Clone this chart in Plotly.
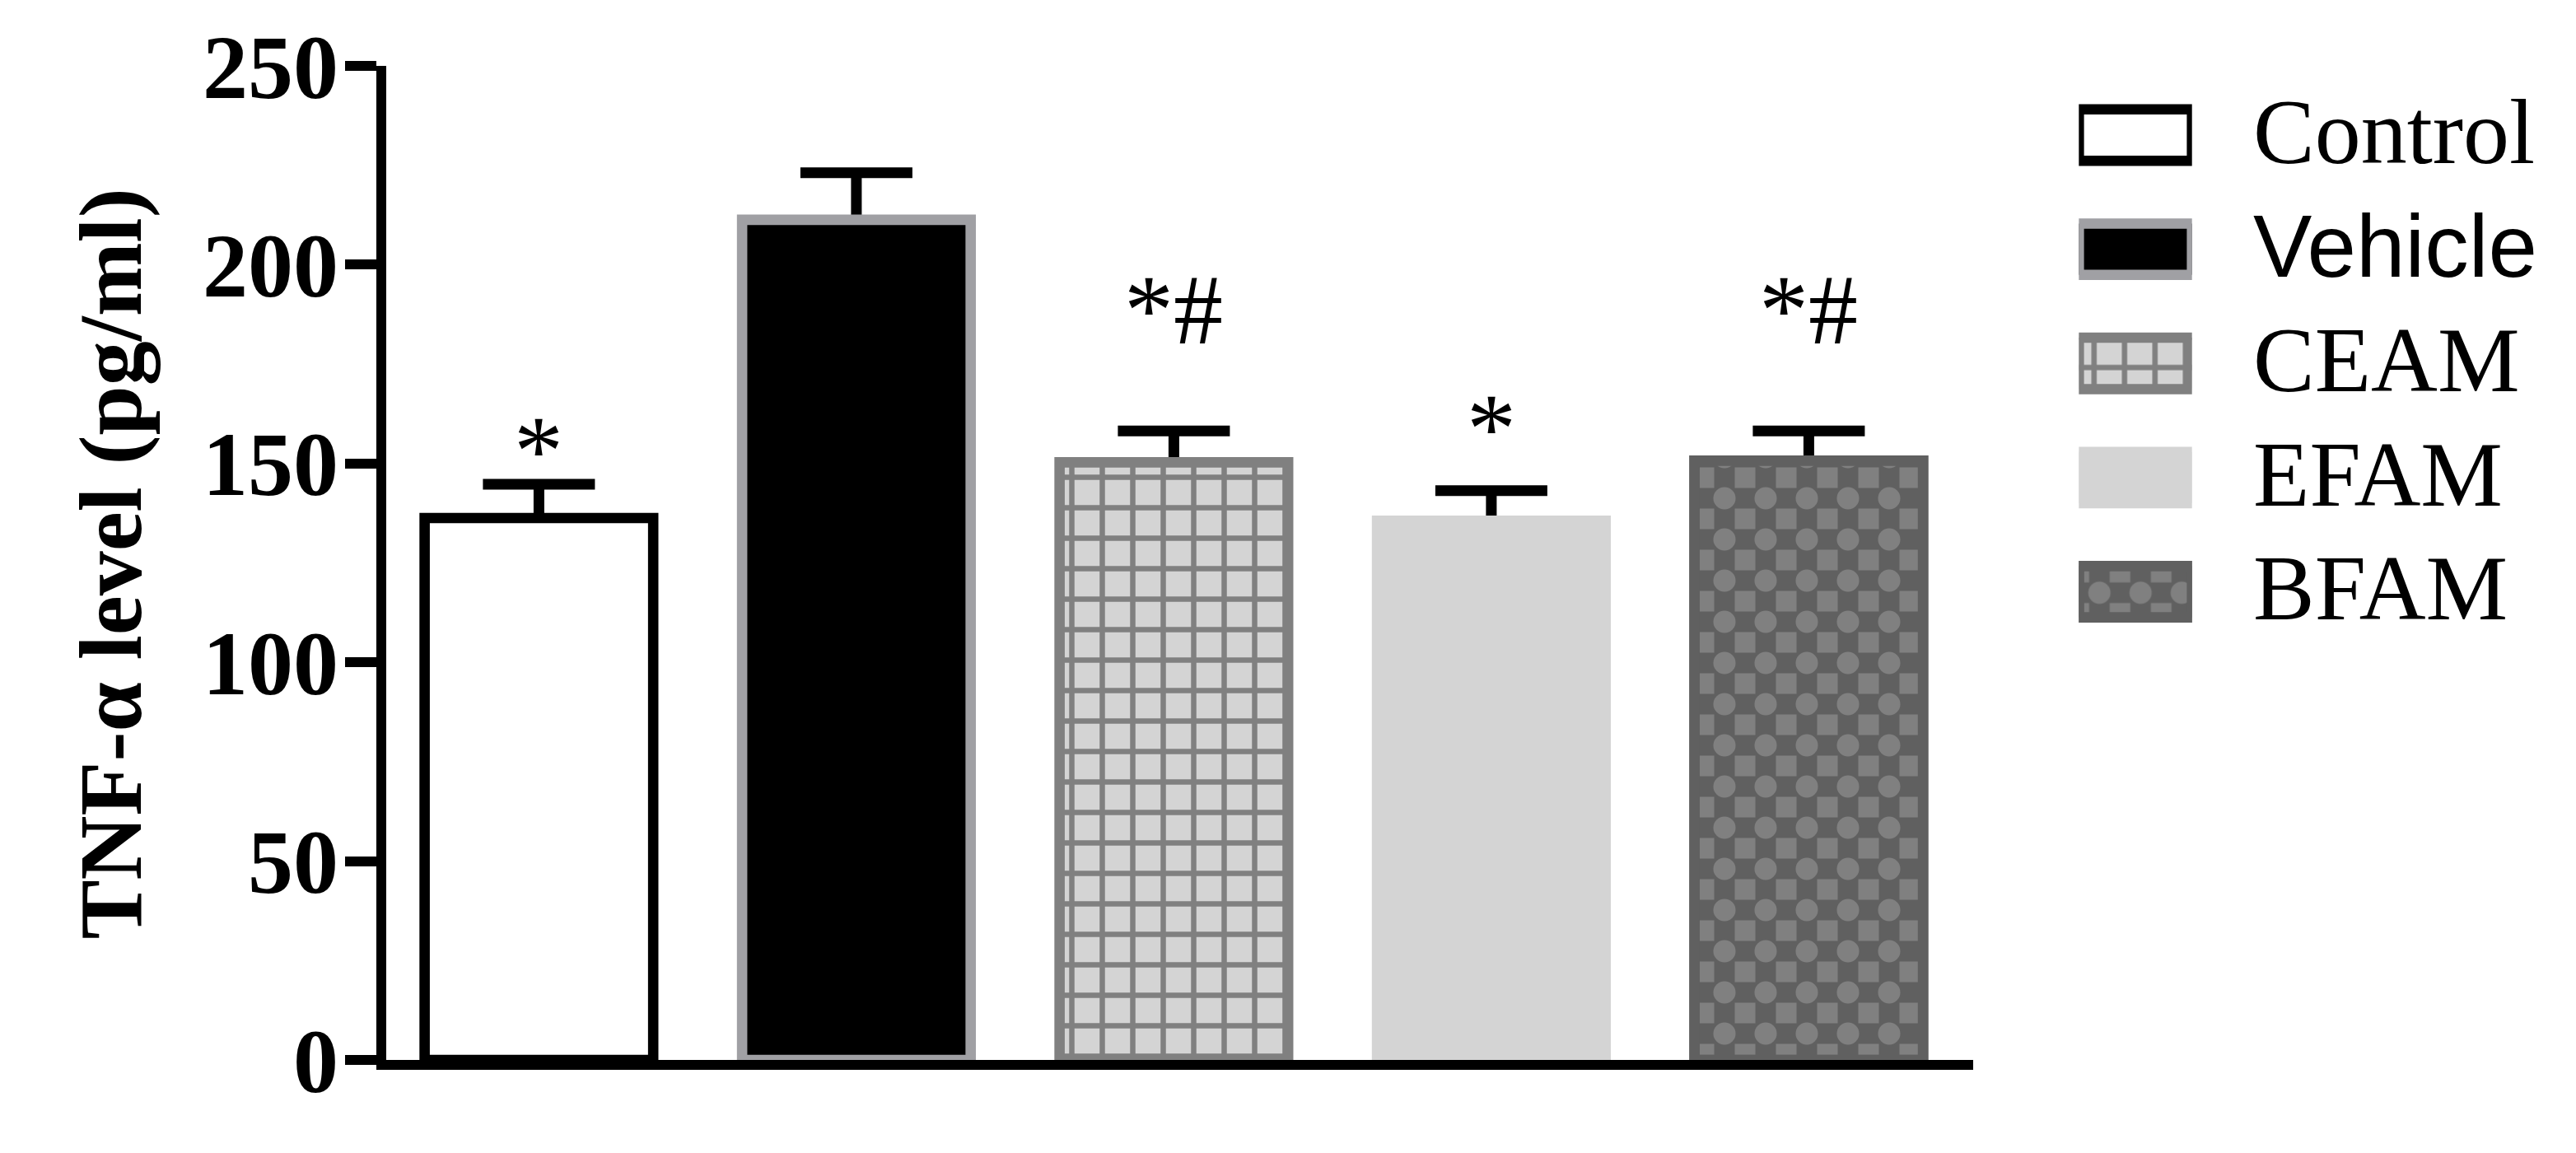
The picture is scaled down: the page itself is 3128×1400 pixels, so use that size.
import plotly.graph_objects as go

# ---- data ----
categories = ["Control", "Vehicle", "CEAM", "EFAM", "BFAM"]
means = [136.3, 211.3, 150.3, 135.6, 150.7]
sems = [8.5, 11.8, 7.9, 7.6, 7.5]
sig_labels = ["*", "", "*#", "*", "*#"]
sig_heights = [153.2, None, 188.6, 158.8, 188.6]
y_ticks = [0, 50, 100, 150, 200, 250]
y_title = "TNF-α level (pg/ml)"

# ---- styles ----
fill_colors = ["#ffffff", "#000000", "#d4d4d4", "#d4d4d4", "#606060"]
line_colors = ["#000000", "#a0a0a4", "#808080", "#d4d4d4", "#606060"]
pat_shapes = ["", "", "+", "", "+"]
pat_bg = ["#ffffff", "#000000", "#d4d4d4", "#d4d4d4", "#808080"]
pat_fg = ["#000000", "#000000", "#808080", "#000000", "#606060"]
pat_size = [10, 10, 37, 10, 50]
pat_solid = [0.3, 0.3, 0.32, 0.3, 0.75]
checker = [False, False, False, False, True]
legend_fonts = ["Liberation Serif", "Liberation Sans", "Liberation Serif", "Liberation Serif", "Liberation Serif"]
legend_sizes = [112, 107, 112, 112, 112]

W, H = 3128, 1400
OFF = 8  # page body margin of the html page
serif = "Liberation Serif"
LW = 12.6


def px_x(p):
    return (p - OFF) / W


def px_y(p):
    return 1 - (p - OFF) / H


# main plot geometry (target px in the picture)
first_center, spacing = 654.4, 385.5
mx0, mx1 = 469, 2396
my_top, my_bot = 80, 1287
xr = [(mx0 - first_center) / spacing, (mx1 - first_center) / spacing]
# legend geometry
lx0, lx1 = 2524.3, 2661.7
ly_top, ly_bot = 94.7, 787.8


def bar_marker(i):
    if pat_shapes[i]:
        pat = dict(shape=pat_shapes[i], fgcolor=pat_fg[i], bgcolor=pat_bg[i],
                   size=pat_size[i], solidity=pat_solid[i], fillmode="replace")
        col = pat_fg[i]
    else:
        pat = dict(shape="")
        col = fill_colors[i]
    return dict(color=col, line=dict(color=line_colors[i], width=LW), pattern=pat)


def checker_marker(i):
    # light dots in the gaps of the "+" grid -> checkerboard-like texture
    return dict(color=pat_bg[i], line=dict(color=line_colors[i], width=LW),
                pattern=dict(shape=".", fgcolor=pat_bg[i], bgcolor="rgba(0,0,0,0)",
                             size=pat_size[i], solidity=0.23, fillmode="replace"))


fig = go.Figure()

# error bars (drawn beneath the bars so only the upper half shows)
fig.add_trace(go.Bar(
    x=categories, y=means, width=0.72,
    marker=dict(color="rgba(0,0,0,0)", line=dict(width=0)),
    error_y=dict(type="data", array=sems, symmetric=True, color="black", thickness=13, width=68),
    showlegend=False, hoverinfo="skip",
))

for i, c in enumerate(categories):
    fig.add_trace(go.Bar(x=[c], y=[means[i]], width=0.72, marker=bar_marker(i),
                         showlegend=False, hoverinfo="skip"))
    if checker[i]:
        fig.add_trace(go.Bar(x=[c], y=[means[i]], width=0.72, marker=checker_marker(i),
                             showlegend=False, hoverinfo="skip"))
for i, c in enumerate(categories):
    fig.add_trace(go.Bar(y=[c], x=[1], orientation="h", width=0.45, xaxis="x2", yaxis="y2",
                         marker=bar_marker(i), showlegend=False, hoverinfo="skip"))
    if checker[i]:
        fig.add_trace(go.Bar(y=[c], x=[1], orientation="h", width=0.45, xaxis="x2", yaxis="y2",
                             marker=checker_marker(i), showlegend=False, hoverinfo="skip"))

annotations = []
for c, lab, h in zip(categories, sig_labels, sig_heights):
    if lab and h is not None:
        annotations.append(dict(x=c, y=h, xref="x", yref="y", text=lab, showarrow=False,
                                xanchor="center", yanchor="middle",
                                font=dict(family=serif, size=120, color="black")))
for c, fnt, sz in zip(categories, legend_fonts, legend_sizes):
    annotations.append(dict(x=px_x(2734), y=c, xref="paper", yref="y2", text=c, showarrow=False,
                            xanchor="left", yanchor="middle", yshift=4,
                            font=dict(family=fnt, size=sz, color="black")))
annotations.append(dict(x=px_x(134), y=px_y(684.5), xref="paper", yref="paper", text=y_title,
                        textangle=-90, showarrow=False, xanchor="center", yanchor="middle",
                        font=dict(family=serif, size=108, color="black", weight="bold")))

hidden = dict(visible=False, automargin=False, showgrid=False, zeroline=False, fixedrange=True)

fig.update_layout(
    template="none",
    width=W, height=H,
    margin=dict(l=0, r=0, t=0, b=0, pad=0),
    paper_bgcolor="white", plot_bgcolor="rgba(0,0,0,0)",
    barmode="overlay", showlegend=False,
    xaxis=dict(domain=[px_x(mx0), px_x(mx1)], range=xr, type="category",
               categoryorder="array", categoryarray=categories,
               showline=True, linecolor="black", linewidth=12, ticks="", showticklabels=False,
               showgrid=False, zeroline=False, automargin=False),
    yaxis=dict(domain=[px_y(my_bot), px_y(my_top)], range=[0, 250], tickvals=y_ticks,
               showline=True, linecolor="black", linewidth=12, ticks="outside", ticklen=38,
               tickwidth=12, tickcolor="black", showgrid=False, zeroline=False,
               ticklabelstandoff=-14, automargin=False,
               tickfont=dict(family=serif, size=110, color="black", weight="bold")),
    xaxis2=dict(domain=[px_x(lx0), px_x(lx1)], range=[0, 1], anchor="y2", **hidden),
    yaxis2=dict(domain=[px_y(ly_bot), px_y(ly_top)], type="category", range=[4.5, -0.5],
                categoryorder="array", categoryarray=categories, anchor="x2", **hidden),
    annotations=annotations,
)

fig.write_html("out.html")
